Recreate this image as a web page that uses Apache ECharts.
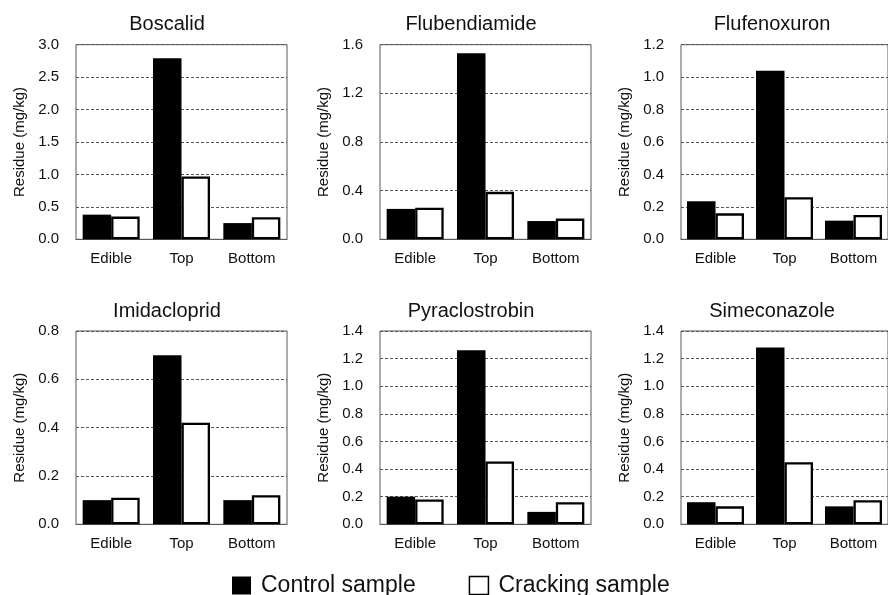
<!DOCTYPE html>
<html>
<head>
<meta charset="utf-8">
<script src="https://cdn.jsdelivr.net/npm/echarts@6/dist/echarts.min.js"></script>
<style>html,body{margin:0;padding:0;background:#fff;}#main{width:888px;height:595px;}</style>
</head>
<body>
<div id="main"></div>
<script>
// ---- data ----
const categories = ['Edible', 'Top', 'Bottom'];
const compounds = ['Boscalid', 'Flubendiamide', 'Flufenoxuron', 'Imidacloprid', 'Pyraclostrobin', 'Simeconazole'];
const seriesNames = ['Control sample', 'Cracking sample'];

const boscalidControl = [0.38, 2.79, 0.25];
const boscalidCracking = [0.35, 0.97, 0.34];
const flubendiamideControl = [0.25, 1.53, 0.15];
const flubendiamideCracking = [0.26, 0.39, 0.17];
const flufenoxuronControl = [0.235, 1.04, 0.115];
const flufenoxuronCracking = [0.16, 0.26, 0.15];
const imidaclopridControl = [0.10, 0.70, 0.10];
const imidaclopridCracking = [0.11, 0.42, 0.12];
const pyraclostrobinControl = [0.20, 1.26, 0.09];
const pyraclostrobinCracking = [0.18, 0.455, 0.16];
const simeconazoleControl = [0.16, 1.28, 0.13];
const simeconazoleCracking = [0.13, 0.45, 0.175];

const yMax = [3.0, 1.6, 1.2, 0.8, 1.4, 1.4];
const yInterval = [0.5, 0.4, 0.2, 0.2, 0.2, 0.2];
const yAxisName = 'Residue (mg/kg)';

const controlData = [boscalidControl, flubendiamideControl, flufenoxuronControl, imidaclopridControl, pyraclostrobinControl, simeconazoleControl];
const crackingData = [boscalidCracking, flubendiamideCracking, flufenoxuronCracking, imidaclopridCracking, pyraclostrobinCracking, simeconazoleCracking];

// ---- layout ----
const FONT = '"Liberation Sans", Arial, sans-serif';
const colLefts = [76, 380, 681];
const rowTops = [44.7, 331];
const rowHeights = [194.6, 193.3];
const plotW = 211;
const titleY = [24.5, 311];

const grids = [], xAxes = [], yAxes = [], series = [], graphics = [];
for (let i = 0; i < 6; i++) {
  const r = Math.floor(i / 3), c = i % 3;
  grids.push({
    left: colLefts[c], top: rowTops[r], width: plotW, height: rowHeights[r],
    show: true, borderColor: '#595959', borderWidth: 1, backgroundColor: 'transparent'
  });
  xAxes.push({
    gridIndex: i, type: 'category', data: categories,
    axisTick: { show: false },
    axisLine: { show: true, lineStyle: { color: '#595959', width: 1 } },
    axisLabel: { color: '#111', fontSize: 15, fontFamily: FONT, margin: 12.5 }
  });
  yAxes.push({
    gridIndex: i, type: 'value', min: 0, max: yMax[i], interval: yInterval[i],
    name: yAxisName, nameLocation: 'middle', nameGap: 49, nameRotate: 90,
    nameTextStyle: { color: '#111', fontSize: 15, fontFamily: FONT },
    axisLine: { show: false }, axisTick: { show: false },
    axisLabel: { color: '#111', fontSize: 15, fontFamily: FONT, margin: 17,
      formatter: v => v.toFixed(1) },
    splitLine: { show: true, lineStyle: { color: '#555', type: [3, 2], width: 1 } }
  });
  series.push({
    name: seriesNames[0], type: 'bar', xAxisIndex: i, yAxisIndex: i,
    data: controlData[i], barWidth: 28.5, barGap: '0%',
    itemStyle: { color: '#000' }, silent: true, animation: false
  });
  series.push({
    name: seriesNames[1], type: 'bar', xAxisIndex: i, yAxisIndex: i,
    data: crackingData[i], barWidth: 28.5, barGap: '0%',
    itemStyle: { color: '#fff', borderColor: '#000', borderWidth: 2.3 }, silent: true, animation: false
  });
  graphics.push({
    type: 'text', x: colLefts[c] + 91, y: titleY[r],
    style: { text: compounds[i], fill: '#111', font: '20px ' + FONT, align: 'center', verticalAlign: 'middle' }
  });
}

const chart = echarts.init(document.getElementById('main'), null, { renderer: 'canvas' });
chart.setOption({
  animation: false,
  backgroundColor: '#fff',
  grid: grids,
  xAxis: xAxes,
  yAxis: yAxes,
  series: series,
  graphic: graphics,
  legend: {
    data: [
      { name: seriesNames[0], itemStyle: { color: '#000', borderWidth: 0 } },
      { name: seriesNames[1], itemStyle: { color: '#fff', borderColor: '#000', borderWidth: 1.5 } }
    ],
    left: 232, top: 574, padding: 0,
    itemWidth: 19, itemHeight: 18, itemGap: 53, icon: 'rect',
    textStyle: { color: '#111', fontSize: 23, fontFamily: FONT, padding: [0, 0, 0, 5] }
  }
});
</script>
</body>
</html>
